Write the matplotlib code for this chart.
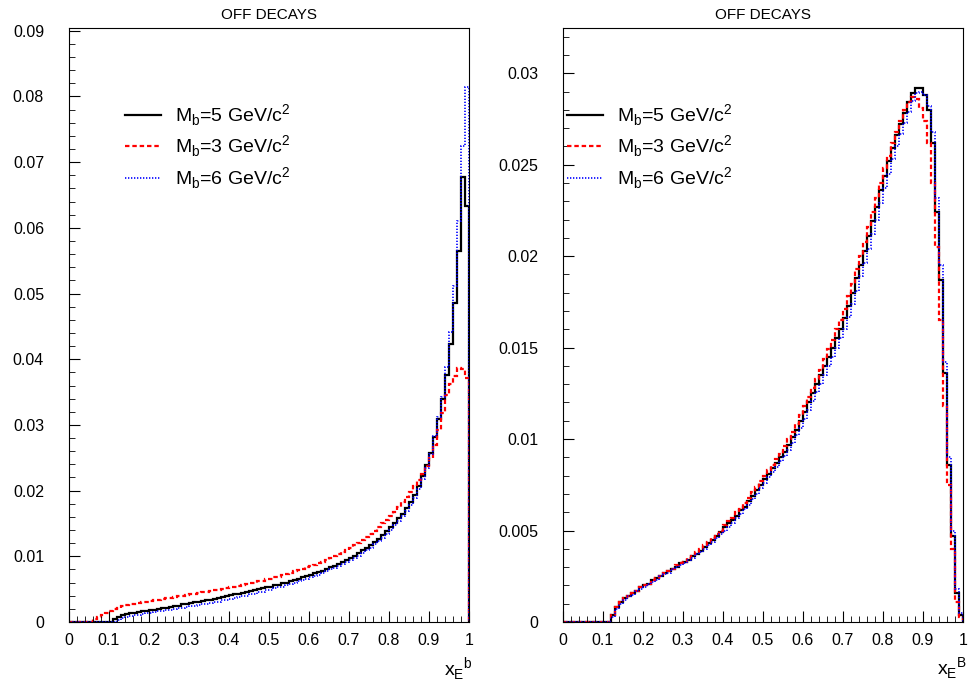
import numpy as np
import matplotlib
matplotlib.use("Agg")
from matplotlib import pyplot as plt
from matplotlib.lines import Line2D

plt.rcParams["font.family"] = ["Liberation Sans", "DejaVu Sans"]
plt.rcParams["mathtext.fontset"] = "custom"
plt.rcParams["mathtext.rm"] = "Liberation Sans"

# bin edges: 100 bins of width 0.01 on [0, 1]
edges = np.linspace(0.0, 1.0, 101)

labels = ["M$_\\mathregular{b}$=5 GeV/c$^\\mathregular{2}$",
          "M$_\\mathregular{b}$=3 GeV/c$^\\mathregular{2}$",
          "M$_\\mathregular{b}$=6 GeV/c$^\\mathregular{2}$"]

# left panel: x_E^b, off decays
left_mb5 = [0, 0, 0, 0, 0, 0, 0, 0, 0, 0,
            0, 0.0005, 0.0008, 0.0010, 0.0012, 0.0013, 0.0014, 0.0015, 0.0016, 0.0017,
            0.0018, 0.0019, 0.0020, 0.0021, 0.0022, 0.0023, 0.0024, 0.0025, 0.0027, 0.0028,
            0.0029, 0.0030, 0.0031, 0.0032, 0.0033, 0.0034, 0.0035, 0.0037, 0.0038, 0.0039,
            0.0041, 0.0042, 0.0043, 0.0044, 0.0046, 0.0047, 0.0048, 0.0050, 0.0051, 0.0053,
            0.0054, 0.0056, 0.0057, 0.0059, 0.0060, 0.0062, 0.0064, 0.0066, 0.0068, 0.0070,
            0.0072, 0.0074, 0.0076, 0.0078, 0.0080, 0.0083, 0.0085, 0.0088, 0.0091, 0.0094,
            0.0098, 0.0101, 0.0105, 0.0109, 0.0113, 0.0117, 0.0122, 0.0127, 0.0132, 0.0138,
            0.0145, 0.0151, 0.0158, 0.0165, 0.0174, 0.0183, 0.0194, 0.0207, 0.0222, 0.0239,
            0.0258, 0.0282, 0.0309, 0.0339, 0.0376, 0.0423, 0.0485, 0.0565, 0.0677, 0.0633]
left_mb3 = [0, 0, 0, 0, 0, 0, 0.0004, 0.0008, 0.0011, 0.0014,
            0.0017, 0.0020, 0.0022, 0.0024, 0.0026, 0.0027, 0.0028, 0.0029, 0.0030, 0.0031,
            0.0032, 0.0033, 0.0034, 0.0035, 0.0036, 0.0037, 0.0038, 0.0039, 0.0040, 0.0041,
            0.0042, 0.0043, 0.0044, 0.0045, 0.0046, 0.0047, 0.0048, 0.0049, 0.0050, 0.0051,
            0.0053, 0.0054, 0.0055, 0.0056, 0.0058, 0.0059, 0.0060, 0.0062, 0.0063, 0.0065,
            0.0066, 0.0068, 0.0069, 0.0071, 0.0073, 0.0075, 0.0077, 0.0079, 0.0081, 0.0083,
            0.0085, 0.0087, 0.0090, 0.0092, 0.0095, 0.0097, 0.0100, 0.0103, 0.0106, 0.0110,
            0.0113, 0.0117, 0.0121, 0.0125, 0.0129, 0.0134, 0.0139, 0.0144, 0.0150, 0.0156,
            0.0162, 0.0168, 0.0175, 0.0182, 0.0190, 0.0198, 0.0207, 0.0216, 0.0226, 0.0237,
            0.0250, 0.0270, 0.0292, 0.0318, 0.0345, 0.0362, 0.0375, 0.0387, 0.0385, 0.0372]
left_mb6 = [0, 0, 0, 0, 0, 0, 0, 0, 0, 0,
            0, 0, 0.0003, 0.0006, 0.0008, 0.0009, 0.0010, 0.0011, 0.0012, 0.0013,
            0.0014, 0.0015, 0.0016, 0.0017, 0.0018, 0.0019, 0.0020, 0.0021, 0.0022, 0.0023,
            0.0024, 0.0025, 0.0026, 0.0027, 0.0028, 0.0029, 0.0030, 0.0031, 0.0033, 0.0034,
            0.0035, 0.0036, 0.0038, 0.0039, 0.0040, 0.0042, 0.0043, 0.0045, 0.0046, 0.0048,
            0.0049, 0.0051, 0.0053, 0.0054, 0.0056, 0.0058, 0.0060, 0.0062, 0.0064, 0.0066,
            0.0068, 0.0070, 0.0072, 0.0075, 0.0077, 0.0080, 0.0082, 0.0085, 0.0088, 0.0091,
            0.0094, 0.0098, 0.0101, 0.0105, 0.0109, 0.0113, 0.0118, 0.0123, 0.0128, 0.0134,
            0.0140, 0.0147, 0.0154, 0.0161, 0.0169, 0.0178, 0.0189, 0.0202, 0.0217, 0.0235,
            0.0256, 0.0283, 0.0312, 0.0343, 0.0388, 0.0441, 0.0511, 0.0610, 0.0725, 0.0815]

# right panel: x_E^B, off decays
right_mb5 = [0, 0, 0, 0, 0, 0, 0, 0, 0, 0,
             0, 0, 0.0004, 0.0008, 0.0011, 0.0013, 0.0014, 0.0016, 0.0017, 0.0019,
             0.0020, 0.0021, 0.0023, 0.0024, 0.0025, 0.0027, 0.0028, 0.0029, 0.0030, 0.0032,
             0.0033, 0.0034, 0.0036, 0.0037, 0.0039, 0.0041, 0.0043, 0.0045, 0.0047, 0.0049,
             0.0052, 0.0054, 0.0056, 0.0058, 0.0061, 0.0063, 0.0066, 0.0069, 0.0072, 0.0075,
             0.0078, 0.0081, 0.0084, 0.0087, 0.0090, 0.0093, 0.0097, 0.0101, 0.0105, 0.0110,
             0.0115, 0.0120, 0.0125, 0.0130, 0.0135, 0.0140, 0.0145, 0.0150, 0.0155, 0.0160,
             0.0166, 0.0173, 0.0180, 0.0188, 0.0195, 0.0203, 0.0211, 0.0219, 0.0227, 0.0236,
             0.0244, 0.0252, 0.0259, 0.0266, 0.0272, 0.0278, 0.0284, 0.0289, 0.0292, 0.0292,
             0.0288, 0.0280, 0.0262, 0.0224, 0.0187, 0.0136, 0.0086, 0.0047, 0.0016, 0.0004]
right_mb3 = [0, 0, 0, 0, 0, 0, 0, 0, 0, 0,
             0, 0, 0.0004, 0.0008, 0.0011, 0.0013, 0.0014, 0.0016, 0.0017, 0.0019,
             0.0020, 0.0021, 0.0023, 0.0024, 0.0025, 0.0027, 0.0028, 0.0029, 0.0031, 0.0032,
             0.0033, 0.0035, 0.0036, 0.0038, 0.0040, 0.0042, 0.0044, 0.0046, 0.0048, 0.0050,
             0.0053, 0.0055, 0.0057, 0.0060, 0.0062, 0.0065, 0.0068, 0.0071, 0.0074, 0.0077,
             0.0080, 0.0083, 0.0086, 0.0089, 0.0092, 0.0096, 0.0100, 0.0104, 0.0108, 0.0113,
             0.0118, 0.0123, 0.0128, 0.0133, 0.0138, 0.0144, 0.0149, 0.0154, 0.0160, 0.0165,
             0.0171, 0.0178, 0.0185, 0.0193, 0.0200, 0.0208, 0.0216, 0.0224, 0.0232, 0.0240,
             0.0248, 0.0255, 0.0262, 0.0268, 0.0274, 0.0280, 0.0284, 0.0287, 0.0286, 0.0281,
             0.0274, 0.0262, 0.0240, 0.0205, 0.0165, 0.0118, 0.0075, 0.0040, 0.0011, 0.0003]
right_mb6 = [0, 0, 0, 0, 0, 0, 0, 0, 0, 0,
             0, 0, 0.0003, 0.0007, 0.0010, 0.0012, 0.0014, 0.0015, 0.0017, 0.0018,
             0.0019, 0.0021, 0.0022, 0.0023, 0.0025, 0.0026, 0.0027, 0.0029, 0.0030, 0.0031,
             0.0032, 0.0034, 0.0035, 0.0037, 0.0038, 0.0040, 0.0042, 0.0044, 0.0046, 0.0048,
             0.0050, 0.0052, 0.0054, 0.0057, 0.0059, 0.0062, 0.0064, 0.0067, 0.0070, 0.0073,
             0.0076, 0.0079, 0.0082, 0.0085, 0.0088, 0.0091, 0.0094, 0.0098, 0.0102, 0.0106,
             0.0111, 0.0116, 0.0121, 0.0126, 0.0130, 0.0135, 0.0140, 0.0145, 0.0150, 0.0155,
             0.0160, 0.0167, 0.0174, 0.0181, 0.0189, 0.0196, 0.0204, 0.0212, 0.0220, 0.0229,
             0.0237, 0.0245, 0.0253, 0.0260, 0.0267, 0.0273, 0.0279, 0.0285, 0.0289, 0.0290,
             0.0288, 0.0282, 0.0268, 0.0232, 0.0195, 0.0142, 0.0090, 0.0050, 0.0018, 0.0005]

styles = [dict(color="black", lw=1.6, ls="-"),
          dict(color="red", lw=1.6, ls=(0, (2.0, 1.3))),
          dict(color="blue", lw=1.2, ls=(0, (0.8, 1.0)))]


def draw_panel(ax, series, ymax, ymajor, yminor, xlabel, legend_x):
    for vals, st in zip(series, styles):
        ax.stairs(vals, edges, baseline=0, **st)
    ax.set_xlim(0, 1)
    ax.set_ylim(0, ymax)
    ax.set_xticks(np.arange(0, 1.01, 0.1))
    ax.set_xticklabels(["0", "0.1", "0.2", "0.3", "0.4", "0.5", "0.6", "0.7", "0.8", "0.9", "1"])
    ax.set_xticks(np.arange(0, 1.001, 0.02), minor=True)
    ax.set_yticks(np.arange(0, ymax, ymajor))
    ax.set_yticks(np.arange(0, ymax, yminor), minor=True)
    ax.yaxis.set_major_formatter(matplotlib.ticker.FuncFormatter(lambda v, p: "0" if v == 0 else f"{v:g}"))
    ax.tick_params(which="both", direction="in", top=False, right=False, labelsize=11.5)
    ax.tick_params(which="major", length=8)
    ax.tick_params(which="minor", length=4.3)
    ax.tick_params(axis="x", pad=8)
    ax.tick_params(axis="y", pad=18)
    for sp in ax.spines.values():
        sp.set_linewidth(0.8)
    ax.set_title("OFF DECAYS", fontsize=11, pad=6)
    ax.text(1.01, -0.055, xlabel, transform=ax.transAxes, ha="right", va="top", fontsize=14)
    handles = [Line2D([], [], **st) for st in styles]
    ax.legend(handles, labels, loc="upper left", bbox_to_anchor=(legend_x, 0.875),
              frameon=False, fontsize=14, handlelength=1.85, handletextpad=0.7,
              labelspacing=0.3, borderpad=0, borderaxespad=0)


fig = plt.figure(figsize=(9.74, 6.82), dpi=100)
ax_left = fig.add_axes([69 / 974, 60 / 682, 400 / 974, 594.5 / 682])
ax_right = fig.add_axes([563 / 974, 60 / 682, 400 / 974, 594.5 / 682])

draw_panel(ax_left, [left_mb5, left_mb3, left_mb6], 0.0905, 0.01, 0.002,
           "x$_\\mathregular{E}$$^\\mathregular{b}$", 0.14)
draw_panel(ax_right, [right_mb5, right_mb3, right_mb6], 0.0325, 0.005, 0.001,
           "x$_\\mathregular{E}$$^\\mathregular{B}$", 0.01)

fig.savefig("out.png", dpi=100)
